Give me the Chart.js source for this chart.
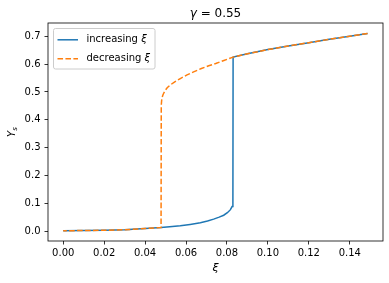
<!DOCTYPE html>
<html>
<head>
<meta charset="utf-8">
<script src="https://cdn.jsdelivr.net/npm/chart.js@4.4.0/dist/chart.umd.min.js"></script>
<style>
  html, body { margin: 0; padding: 0; background: #fff; }
  #wrap { width: 389px; height: 283px; }
</style>
</head>
<body>
<div id="wrap"><canvas id="hysteresisChart" width="389" height="283"></canvas></div>
<script>
// values
const incXi = [0, 0.01, 0.02, 0.03, 0.04, 0.0478, 0.052, 0.0572, 0.062, 0.067, 0.0705, 0.0735, 0.0762, 0.0784, 0.0802, 0.0817, 0.0825, 0.0829, 0.0830, 0.09, 0.10, 0.11, 0.12, 0.13, 0.14, 0.1487];
const incY  = [0.001, 0.002, 0.003, 0.005, 0.009, 0.013, 0.016, 0.019, 0.024, 0.030, 0.036, 0.043, 0.050, 0.057, 0.066, 0.077, 0.088, 0.100, 0.625, 0.637, 0.652, 0.665, 0.677, 0.689, 0.700, 0.710];
const decXi = [0.1487, 0.14, 0.13, 0.12, 0.11, 0.10, 0.09, 0.0830, 0.0785, 0.0745, 0.0711, 0.0675, 0.0637, 0.0605, 0.0572, 0.0545, 0.0523, 0.0508, 0.0499, 0.0492, 0.0487, 0.0483, 0.0481, 0.0479, 0.0478, 0.04, 0.03, 0.02, 0.01, 0];
const decY  = [0.710, 0.700, 0.689, 0.677, 0.665, 0.652, 0.637, 0.625, 0.613, 0.602, 0.594, 0.584, 0.572, 0.561, 0.548, 0.536, 0.525, 0.515, 0.506, 0.497, 0.489, 0.480, 0.470, 0.452, 0.013, 0.009, 0.005, 0.003, 0.002, 0.001];

const xTicks = [0, 0.02, 0.04, 0.06, 0.08, 0.10, 0.12, 0.14];
const yTicks = [0, 0.1, 0.2, 0.3, 0.4, 0.5, 0.6, 0.7];
const xLimits = [-0.00744, 0.15624];
const yLimits = [-0.0356, 0.7476];

const seriesNames = ['increasing ', 'decreasing '];
const seriesColors = ['#1f77b4', '#ff7f0e'];
const titleSymbol = 'γ';
const titleRest = ' = 0.55';
const xLabel = 'ξ';
const yLabelMain = 'Y';
const yLabelSub = 's';

const FONT = '"DejaVu Sans", sans-serif';
const DASH = [5.55, 2.4];

function toPoints(xs, ys) {
    return xs.map((x, i) => ({ x: x, y: ys[i] }));
}

// frame, title, y label and the legend drawn the way matplotlib lays them out
const decorPlugin = {
    id: 'decor',
    afterDraw(chart) {
        const ctx = chart.ctx;
        const a = chart.chartArea;
        ctx.save();

        // axes box
        ctx.strokeStyle = '#000';
        ctx.lineWidth = 0.8;
        ctx.strokeRect(a.left, a.top, a.right - a.left, a.bottom - a.top);

        // title
        ctx.fillStyle = '#000';
        ctx.textBaseline = 'alphabetic';
        ctx.font = 'italic 12px ' + FONT;
        const w1 = ctx.measureText(titleSymbol).width;
        ctx.font = '12px ' + FONT;
        const w2 = ctx.measureText(titleRest).width;
        let tx = (a.left + a.right) / 2 - (w1 + w2) / 2;
        ctx.textAlign = 'left';
        ctx.font = 'italic 12px ' + FONT;
        ctx.fillText(titleSymbol, tx, 17);
        ctx.font = '12px ' + FONT;
        ctx.fillText(titleRest, tx + w1, 17);

        // y label, rotated
        ctx.save();
        ctx.font = 'italic 10px ' + FONT;
        const wy = ctx.measureText(yLabelMain).width;
        ctx.font = 'italic 7px ' + FONT;
        const ws = ctx.measureText(yLabelSub).width;
        const cy = (a.top + a.bottom) / 2;
        ctx.translate(14.5, cy + (wy + ws) / 2);
        ctx.rotate(-Math.PI / 2);
        ctx.font = 'italic 10px ' + FONT;
        ctx.fillText(yLabelMain, 0, 0);
        ctx.font = 'italic 7px ' + FONT;
        ctx.fillText(yLabelSub, wy, 2);
        ctx.restore();

        // legend
        const lx = a.left + 5.5, ly = a.top + 5.5, lw = 101.5, lh = 40.5, r = 2;
        ctx.beginPath();
        ctx.moveTo(lx + r, ly);
        ctx.arcTo(lx + lw, ly, lx + lw, ly + lh, r);
        ctx.arcTo(lx + lw, ly + lh, lx, ly + lh, r);
        ctx.arcTo(lx, ly + lh, lx, ly, r);
        ctx.arcTo(lx, ly, lx + lw, ly, r);
        ctx.closePath();
        ctx.fillStyle = 'rgba(255,255,255,0.8)';
        ctx.fill();
        ctx.strokeStyle = '#cccccc';
        ctx.lineWidth = 1;
        ctx.stroke();

        seriesNames.forEach((name, i) => {
            const yy = ly + 11.3 + i * 19;
            ctx.beginPath();
            ctx.setLineDash(i === 1 ? DASH : []);
            ctx.strokeStyle = seriesColors[i];
            ctx.lineWidth = 1.5;
            ctx.moveTo(lx + 4, yy);
            ctx.lineTo(lx + 24.5, yy);
            ctx.stroke();
            ctx.setLineDash([]);
            ctx.fillStyle = '#000';
            ctx.textBaseline = 'middle';
            ctx.font = '10px ' + FONT;
            ctx.fillText(name, lx + 33, yy);
            const wn = ctx.measureText(name).width;
            ctx.font = 'italic 10px ' + FONT;
            ctx.fillText(xLabel, lx + 33 + wn, yy);
        });

        ctx.restore();
    }
};

function setupHysteresisChart() {
    Chart.defaults.font.family = FONT;
    Chart.defaults.font.size = 10;
    Chart.defaults.color = '#000';

    const ctx = document.getElementById('hysteresisChart').getContext('2d');
    return new Chart(ctx, {
        type: 'scatter',
        data: {
            datasets: [
                {
                    label: seriesNames[0] + xLabel,
                    data: toPoints(incXi, incY),
                    showLine: true,
                    borderColor: seriesColors[0],
                    borderWidth: 1.5,
                    pointRadius: 0,
                    tension: 0,
                    order: 1
                },
                {
                    label: seriesNames[1] + xLabel,
                    data: toPoints(decXi, decY),
                    showLine: true,
                    borderColor: seriesColors[1],
                    borderWidth: 1.5,
                    borderDash: DASH,
                    pointRadius: 0,
                    tension: 0,
                    order: 0
                }
            ]
        },
        options: {
            responsive: false,
            animation: false,
            layout: { padding: { top: 23, right: 6, left: 0, bottom: 0 } },
            plugins: {
                legend: { display: false },
                tooltip: { enabled: false },
                title: { display: false }
            },
            scales: {
                x: {
                    type: 'linear',
                    min: xLimits[0],
                    max: xLimits[1],
                    afterBuildTicks: scale => { scale.ticks = xTicks.map(v => ({ value: v })); },
                    afterFit: scale => { scale.height = 42; },
                    ticks: {
                        callback: v => v.toFixed(2),
                        padding: 3,
                        maxRotation: 0,
                        autoSkip: false,
                        font: { size: 10 }
                    },
                    grid: {
                        drawOnChartArea: false,
                        drawTicks: true,
                        tickLength: 3.5,
                        tickWidth: 0.8,
                        tickColor: '#000'
                    },
                    border: { display: false },
                    title: {
                        display: true,
                        text: xLabel,
                        font: { size: 11, style: 'italic' },
                        padding: { top: 0, bottom: 8 }
                    }
                },
                y: {
                    type: 'linear',
                    min: yLimits[0],
                    max: yLimits[1],
                    afterBuildTicks: scale => { scale.ticks = yTicks.map(v => ({ value: v })); },
                    afterFit: scale => { scale.width = 48; },
                    ticks: {
                        callback: v => v.toFixed(1),
                        padding: 4,
                        autoSkip: false,
                        font: { size: 10 }
                    },
                    grid: {
                        drawOnChartArea: false,
                        drawTicks: true,
                        tickLength: 3.5,
                        tickWidth: 0.8,
                        tickColor: '#000'
                    },
                    border: { display: false }
                }
            }
        },
        plugins: [decorPlugin]
    });
}

setupHysteresisChart();
</script>
</body>
</html>
